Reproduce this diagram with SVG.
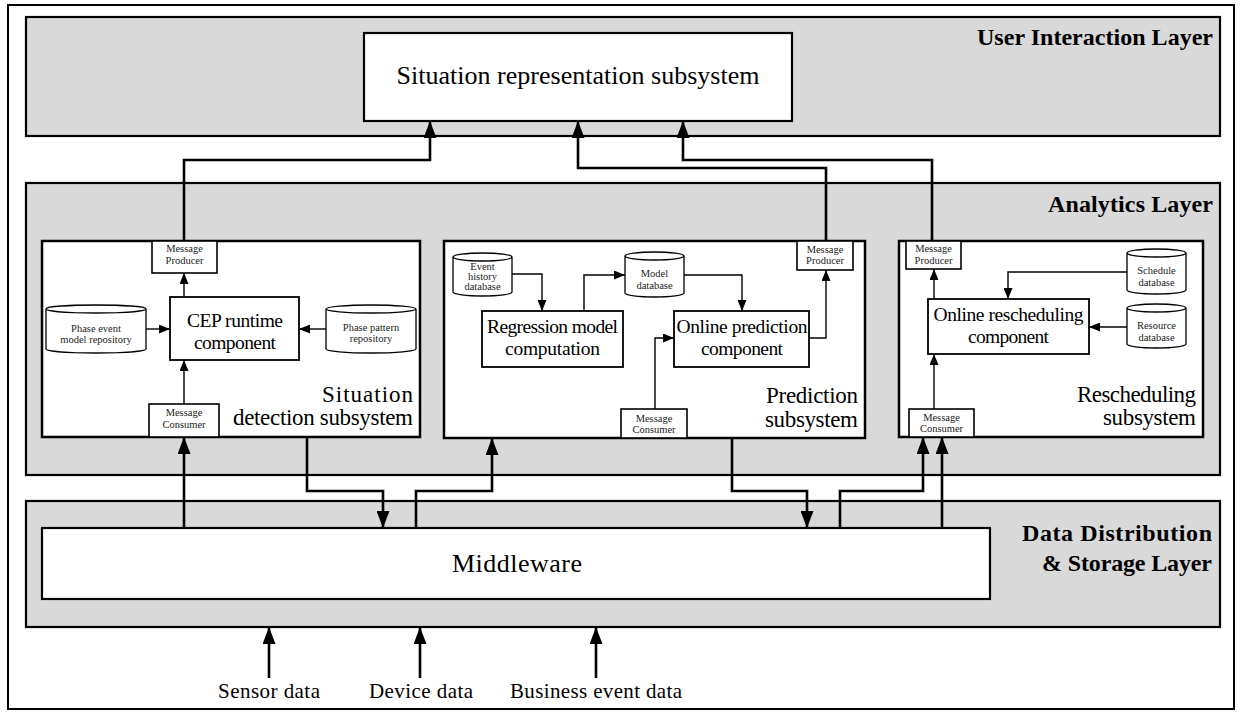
<svg xmlns="http://www.w3.org/2000/svg" width="1241" height="713" viewBox="0 0 1241 713">
  <style>
    text { font-family: "Liberation Serif", "Times New Roman", serif; fill: #000; }
    .layer { fill: #d9d9d9; stroke: #000; stroke-width: 2.2; }
    .frame { fill: #fff; stroke: #000; stroke-width: 2; }
    .sub { fill: #fff; stroke: #000; stroke-width: 2.5; }
    .comp { fill: #fff; stroke: #000; stroke-width: 1.8; }
    .msg { fill: #fff; stroke: #000; stroke-width: 1.6; }
    .cyl { fill: #fff; stroke: #000; stroke-width: 1.3; }
    .layerlbl { font-size: 24px; font-weight: bold; text-anchor: end; }
    .sublbl { font-size: 23px; text-anchor: end; }
    .big { font-size: 26px; text-anchor: middle; }
    .comptxt { font-size: 19.5px; text-anchor: middle; }
    .small { font-size: 10.5px; text-anchor: middle; fill: #222; }
    .input { font-size: 21px; text-anchor: middle; }
    .thick { fill: none; stroke: #000; stroke-width: 2.6; }
    .thin { fill: none; stroke: #000; stroke-width: 1.4; }
  </style>
  <defs>
    <marker id="bigArrow" markerUnits="userSpaceOnUse" markerWidth="17" markerHeight="13" refX="17" refY="6.5" orient="auto">
      <path d="M0,0 L17,6.5 L0,13 z" fill="#000"/>
    </marker>
    <marker id="smallArrow" markerUnits="userSpaceOnUse" markerWidth="11" markerHeight="9" refX="11" refY="4.5" orient="auto">
      <path d="M0,0 L11,4.5 L0,9 z" fill="#000"/>
    </marker>
  </defs>

  <!-- outer frame -->
  <rect class="frame" x="8" y="5" width="1226" height="704"/>

  <!-- layers -->
  <g id="layer-user-interaction">
    <rect class="layer" x="26" y="17" width="1194" height="119"/>
    <text class="layerlbl" x="1213" y="45" textLength="236">User Interaction Layer</text>
  </g>
  <g id="layer-analytics">
    <rect class="layer" x="26" y="183" width="1194" height="292"/>
    <text class="layerlbl" x="1213" y="212" textLength="165">Analytics Layer</text>
  </g>
  <g id="layer-data">
    <rect class="layer" x="26" y="501" width="1194" height="126"/>
    <text class="layerlbl" x="1212" y="541" textLength="190">Data Distribution</text>
    <text class="layerlbl" x="1212" y="571" textLength="170">&amp; Storage Layer</text>
  </g>

  <!-- user interaction -->
  <g id="situation-representation">
    <rect class="sub" x="364" y="33" width="428" height="88" style="stroke-width:2.2"/>
    <text class="big" x="578" y="84" textLength="363">Situation representation subsystem</text>
  </g>

  <!-- situation detection subsystem -->
  <g id="situation-detection">
    <rect class="sub" x="42" y="241" width="378" height="196"/>
    <text class="sublbl" x="413" y="402" textLength="91">Situation</text>
    <text class="sublbl" x="413" y="425" textLength="180">detection subsystem</text>
  </g>
  <g id="sd-producer">
    <rect class="msg" x="152" y="241" width="65" height="32"/>
    <text class="small" x="184.5" y="252">Message</text>
    <text class="small" x="184.5" y="264">Producer</text>
  </g>
  <g id="sd-consumer">
    <rect class="msg" x="149" y="404" width="70" height="33"/>
    <text class="small" x="184" y="416">Message</text>
    <text class="small" x="184" y="428">Consumer</text>
  </g>
  <g id="cep-runtime">
    <rect class="comp" x="170" y="297" width="129" height="63"/>
    <text class="comptxt" x="235" y="327" textLength="96">CEP runtime</text>
    <text class="comptxt" x="235" y="349" textLength="82">component</text>
  </g>
  <g id="phase-event-repo">
    <path class="cyl" d="M46,309 A50,4 0 0 1 146,309 V349 A50,4 0 0 1 46,349 Z M46,309 A50,4 0 0 0 146,309"/>
    <text class="small" x="96" y="332">Phase event</text>
    <text class="small" x="96" y="343">model repository</text>
  </g>
  <g id="phase-pattern-repo">
    <path class="cyl" d="M326,309 A45,4 0 0 1 416,309 V349 A45,4 0 0 1 326,349 Z M326,309 A45,4 0 0 0 416,309"/>
    <text class="small" x="371" y="331">Phase pattern</text>
    <text class="small" x="371" y="342">repository</text>
  </g>

  <!-- prediction subsystem -->
  <g id="prediction">
    <rect class="sub" x="444" y="241" width="421" height="197"/>
    <text class="sublbl" x="858" y="403" textLength="92">Prediction</text>
    <text class="sublbl" x="858" y="427" textLength="93">subsystem</text>
  </g>
  <g id="pr-producer">
    <rect class="msg" x="797" y="241" width="56" height="29"/>
    <text class="small" x="825" y="253">Message</text>
    <text class="small" x="825" y="264">Producer</text>
  </g>
  <g id="pr-consumer">
    <rect class="msg" x="621" y="409" width="66" height="29"/>
    <text class="small" x="654" y="422">Message</text>
    <text class="small" x="654" y="433">Consumer</text>
  </g>
  <g id="event-history-db">
    <path class="cyl" d="M453,257 A29.5,4 0 0 1 512,257 V292 A29.5,4 0 0 1 453,292 Z M453,257 A29.5,4 0 0 0 512,257"/>
    <text class="small" x="482.5" y="270">Event</text>
    <text class="small" x="482.5" y="280">history</text>
    <text class="small" x="482.5" y="290">database</text>
  </g>
  <g id="model-db">
    <path class="cyl" d="M625,256 A29.5,4 0 0 1 684,256 V293 A29.5,4 0 0 1 625,293 Z M625,256 A29.5,4 0 0 0 684,256"/>
    <text class="small" x="654.5" y="277">Model</text>
    <text class="small" x="654.5" y="289">database</text>
  </g>
  <g id="regression-model">
    <rect class="comp" x="482" y="311" width="141" height="56"/>
    <text class="comptxt" x="552.5" y="333" textLength="131">Regression model</text>
    <text class="comptxt" x="552.5" y="355" textLength="95">computation</text>
  </g>
  <g id="online-prediction">
    <rect class="comp" x="674" y="311" width="135" height="56"/>
    <text class="comptxt" x="742" y="333" textLength="131">Online prediction</text>
    <text class="comptxt" x="742" y="355" textLength="82">component</text>
  </g>

  <!-- rescheduling subsystem -->
  <g id="rescheduling">
    <rect class="sub" x="899" y="241" width="304" height="196"/>
    <text class="sublbl" x="1196" y="402" textLength="119">Rescheduling</text>
    <text class="sublbl" x="1196" y="425" textLength="93">subsystem</text>
  </g>
  <g id="rs-producer">
    <rect class="msg" x="906" y="241" width="55" height="28"/>
    <text class="small" x="933.5" y="252">Message</text>
    <text class="small" x="933.5" y="264">Producer</text>
  </g>
  <g id="rs-consumer">
    <rect class="msg" x="909" y="409" width="65" height="28"/>
    <text class="small" x="941.5" y="421">Message</text>
    <text class="small" x="941.5" y="432">Consumer</text>
  </g>
  <g id="schedule-db">
    <path class="cyl" d="M1127,253 A29.5,4 0 0 1 1186,253 V290 A29.5,4 0 0 1 1127,290 Z M1127,253 A29.5,4 0 0 0 1186,253"/>
    <text class="small" x="1156.5" y="274">Schedule</text>
    <text class="small" x="1156.5" y="286">database</text>
  </g>
  <g id="resource-db">
    <path class="cyl" d="M1127,308 A29.5,4 0 0 1 1186,308 V344 A29.5,4 0 0 1 1127,344 Z M1127,308 A29.5,4 0 0 0 1186,308"/>
    <text class="small" x="1156.5" y="329">Resource</text>
    <text class="small" x="1156.5" y="341">database</text>
  </g>
  <g id="online-rescheduling">
    <rect class="comp" x="928" y="299" width="161" height="55"/>
    <text class="comptxt" x="1008.5" y="321" textLength="150">Online rescheduling</text>
    <text class="comptxt" x="1008.5" y="343" textLength="81">component</text>
  </g>

  <!-- data distribution -->
  <g id="middleware">
    <rect class="comp" x="42" y="528" width="948" height="71" style="stroke-width:2.2"/>
    <text class="big" x="517" y="572" style="font-size:26px" textLength="130">Middleware</text>
  </g>

  <!-- input labels -->
  <g id="inputs">
    <text class="input" x="269" y="698" textLength="102">Sensor data</text>
    <text class="input" x="421" y="698" textLength="104">Device data</text>
    <text class="input" x="596" y="698" textLength="172">Business event data</text>
  </g>

  <!-- connectors -->
  <g id="connectors">
    <!-- producers to situation representation -->
    <path class="thick" d="M184,241 V160 H430 V121" marker-end="url(#bigArrow)"/>
    <path class="thick" d="M826,241 V168 H578 V121" marker-end="url(#bigArrow)"/>
    <path class="thick" d="M932,241 V160 H683 V121" marker-end="url(#bigArrow)"/>

    <!-- middleware to and from subsystems -->
    <path class="thick" d="M184,528 V437" marker-end="url(#bigArrow)"/>
    <path class="thick" d="M307,437 V491 H383 V528" marker-end="url(#bigArrow)"/>
    <path class="thick" d="M416,528 V491 H492 V438" marker-end="url(#bigArrow)"/>
    <path class="thick" d="M732,438 V491 H807 V528" marker-end="url(#bigArrow)"/>
    <path class="thick" d="M840,528 V491 H923 V437" marker-end="url(#bigArrow)"/>
    <path class="thick" d="M942,528 V437" marker-end="url(#bigArrow)"/>

    <!-- external inputs -->
    <path class="thick" d="M269,678 V627" marker-end="url(#bigArrow)"/>
    <path class="thick" d="M420,678 V627" marker-end="url(#bigArrow)"/>
    <path class="thick" d="M596,678 V627" marker-end="url(#bigArrow)"/>

    <!-- situation detection internals -->
    <path class="thin" d="M184,404 V360" marker-end="url(#smallArrow)"/>
    <path class="thin" d="M184,297 V273" marker-end="url(#smallArrow)"/>
    <path class="thin" d="M146,329 H170" marker-end="url(#smallArrow)"/>
    <path class="thin" d="M326,329 H299" marker-end="url(#smallArrow)"/>

    <!-- prediction internals -->
    <path class="thin" d="M512,274 H542 V311" marker-end="url(#smallArrow)"/>
    <path class="thin" d="M584,311 V275 H625" marker-end="url(#smallArrow)"/>
    <path class="thin" d="M684,275 H742 V311" marker-end="url(#smallArrow)"/>
    <path class="thin" d="M809,338 H826 V270" marker-end="url(#smallArrow)"/>
    <path class="thin" d="M655,409 V338 H674" marker-end="url(#smallArrow)"/>

    <!-- rescheduling internals -->
    <path class="thin" d="M1127,272 H1008 V299" marker-end="url(#smallArrow)"/>
    <path class="thin" d="M1127,327 H1089" marker-end="url(#smallArrow)"/>
    <path class="thin" d="M934,299 V269" marker-end="url(#smallArrow)"/>
    <path class="thin" d="M934,409 V354" marker-end="url(#smallArrow)"/>
  </g>
</svg>
